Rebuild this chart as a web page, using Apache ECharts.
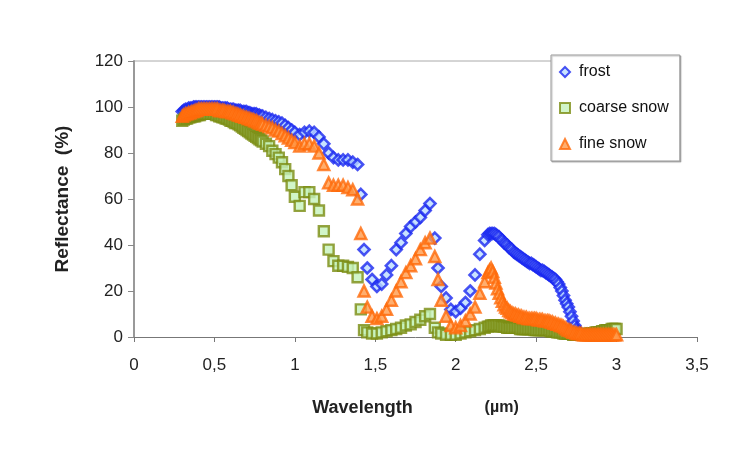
<!DOCTYPE html>
<html>
<head>
<meta charset="utf-8">
<script src="https://cdn.jsdelivr.net/npm/echarts@6/dist/echarts.min.js"></script>
<style>
  html, body { margin: 0; padding: 0; background: #fff; }
  #chart { width: 740px; height: 449px; }
</style>
</head>
<body>
<div id="chart"></div>
<script>
// wavelength grid (µm), shared by the three spectra
const wavelength = [
  // visible / near IR, dense
  0.30, 0.31, 0.32, 0.33, 0.34, 0.35, 0.36, 0.37, 0.38, 0.39,
  0.40, 0.41, 0.42, 0.43, 0.44, 0.45, 0.46, 0.47, 0.48, 0.49,
  0.50, 0.51, 0.52, 0.53, 0.54, 0.55, 0.56, 0.57, 0.58, 0.59,
  0.60, 0.61, 0.62, 0.63, 0.64, 0.65, 0.66, 0.67, 0.68, 0.69,
  0.70, 0.71, 0.72, 0.73, 0.74, 0.75, 0.76, 0.77, 0.78, 0.79,
  0.80, 0.82, 0.84, 0.86, 0.88, 0.90, 0.92, 0.94, 0.96, 0.98, 1.00,
  // 1.0 - 1.5
  1.03, 1.06, 1.09, 1.12, 1.15, 1.18, 1.21, 1.24, 1.27, 1.30, 1.33, 1.36, 1.39,
  1.41, 1.43, 1.45, 1.48,
  // 1.5 - 2.2
  1.51, 1.54, 1.57, 1.60, 1.63, 1.66, 1.69, 1.72, 1.75, 1.78, 1.81, 1.84,
  1.87, 1.89, 1.91, 1.94, 1.97, 2.00, 2.03, 2.06, 2.09, 2.12, 2.15, 2.18,
  // 2.2 - 3.0, dense
  2.20, 2.21, 2.22, 2.23, 2.24, 2.25, 2.26, 2.27, 2.28, 2.29,
  2.30, 2.31, 2.32, 2.33, 2.34, 2.35, 2.36, 2.37, 2.38, 2.39,
  2.40, 2.41, 2.42, 2.43, 2.44, 2.45, 2.46, 2.47, 2.48, 2.49,
  2.50, 2.51, 2.52, 2.53, 2.54, 2.55, 2.56, 2.57, 2.58, 2.59,
  2.60, 2.61, 2.62, 2.63, 2.64, 2.65, 2.66, 2.67, 2.68, 2.69,
  2.70, 2.71, 2.72, 2.73, 2.74, 2.75, 2.76, 2.77, 2.78, 2.79,
  2.80, 2.81, 2.82, 2.83, 2.84, 2.85, 2.86, 2.87, 2.88, 2.89,
  2.90, 2.91, 2.92, 2.93, 2.94, 2.95, 2.96, 2.97, 2.98, 2.99,
  3.00
];

const frost = [
  98, 98.5, 99, 99, 99.5, 99.5, 99.5, 100, 100, 100,
  100, 100, 100, 100, 100, 100, 100, 100, 100, 100,
  100, 100, 100, 100, 99.5, 99.5, 99.5, 99.5, 99.5, 99,
  99, 99, 99, 98.5, 98.5, 98.5, 98.5, 98, 98, 98,
  98, 97.5, 97.5, 97, 97, 97, 97, 96.5, 96.5, 96,
  96, 95.5, 95, 94.5, 94, 93.5, 93, 92, 91, 90, 89,
  88, 89, 89.5, 89, 87, 84, 80, 78, 77, 77, 77, 76, 75,
  62, 38, 30, 25,
  22, 23, 27, 31, 38, 41, 45, 48, 50, 52, 55, 58,
  43, 30, 22, 17, 12, 11, 12.5, 15, 20, 27, 36, 42,
  44.5, 45, 45, 45, 45, 44.5, 44, 43.5, 42.5, 42,
  41, 40.5, 40, 39, 38.5, 38, 37, 36.5, 36, 35.5,
  35, 34.5, 34, 33.5, 33, 32.5, 32, 32, 31.5, 31,
  30.5, 30, 29.5, 29, 29, 28.5, 28, 27.5, 27, 26.5,
  26, 25.5, 25, 24, 23, 21.5, 20, 18, 16, 14.5,
  13, 11, 9, 7, 5, 3.5, 2.5, 2, 1.5, null,
  null, null, null, null, null, null, null, null, null, null,
  null, null, null, null, null, null, null, null, null, null,
  null
];

const coarseSnow = [
  94, 94.5, 95, 95, 95.5, 95.5, 96, 96, 96, 96.5,
  96.5, 96.5, 97, 97, 97, 97, 97, 97, 97, 97,
  97, 96.5, 96.5, 96, 96, 95.5, 95.5, 95, 95, 94.5,
  94, 94, 93.5, 93, 93, 92.5, 92, 91.5, 91, 90.5,
  90, 89.5, 89, 88.5, 88, 87.5, 87, 86.5, 86, 85.5,
  85, 84, 83, 81, 79.5, 78, 76, 73, 70, 66, 61,
  57, 63, 63, 60, 55, 46, 38, 33, 31, 31, 30.5, 30, 26,
  12, 3, 2, 1.5,
  1.5, 2, 2.5, 3, 3.5, 4, 5, 5.5, 6.5, 7.5, 9, 10,
  4, 2, 1.5, 1, 1, 1, 1.5, 2, 2.5, 3, 3.5, 4,
  4.5, 4.5, 5, 5, 5, 5, 5, 5, 4.5, 4.5,
  4.5, 4.5, 4, 4, 4, 4, 4, 4, 4, 4,
  3.5, 3.5, 3.5, 3.5, 3.5, 3.5, 3.5, 3.5, 3.5, 3,
  3, 3, 3, 3, 3, 3, 3, 3, 3, 2.5,
  2.5, 2.5, 2.5, 2, 2, 2, 2, 1.5, 1.5, 1.5,
  1.5, 1.5, 1.5, 1, 1, 1, 1, 1, 1, 1,
  1, 1, 1, 1.5, 1.5, 1.5, 1.5, 2, 2, 2,
  2, 2.5, 2.5, 3, 3, 3, 3, 3.5, 3.5, 3.5,
  3.5
];

const fineSnow = [
  96, 96.5, 97, 97, 97.5, 97.5, 98, 98, 98.5, 98.5,
  99, 99, 99, 99, 99, 99, 99, 99, 99, 99,
  99, 99, 99, 98.5, 98.5, 98.5, 98.5, 98, 98, 98,
  98, 97.5, 97.5, 97, 97, 96.5, 96.5, 96, 96, 95.5,
  95.5, 95, 95, 94.5, 94.5, 94, 94, 93.5, 93, 93,
  92.5, 92, 91.5, 91, 90, 89.5, 88.5, 87.5, 86.5, 85.5, 84.5,
  83, 84, 84, 83, 80, 75, 67, 66, 66, 66, 65, 64, 60,
  45, 20, 13, 9,
  8, 9, 12, 16, 20, 24, 28, 31, 34, 38, 41, 43,
  35, 25, 16, 9, 5, 4, 5, 7, 10, 13, 19, 24,
  28, 29, 30, 28.5, 26, 23.5, 21, 19, 17, 15.5,
  14, 13, 12.5, 11.5, 11, 10.5, 10, 10, 9.5, 9.5,
  9, 9, 8.5, 8.5, 8.5, 8, 8, 8, 8, 8,
  8, 7.5, 7.5, 7.5, 7.5, 7, 7, 7, 7, 6.5,
  6.5, 6, 6, 5.5, 5.5, 5, 5, 4.5, 4, 3.5,
  3, 3, 2.5, 2, 2, 1.5, 1.5, 1.5, 1.5, 1,
  1, 1, 1, 1, 1, 1, 1, 1, 1, 1,
  1, 1, 1, 1, 1, 1, 1, 1, 1, 1,
  1
];

const xTicks = [0, 0.5, 1, 1.5, 2, 2.5, 3, 3.5];
const yTicks = [0, 20, 40, 60, 80, 100, 120];

const pairs = (vals) => wavelength
  .map((w, i) => [w, vals[i]])
  .filter((p) => p[1] !== null && p[1] !== undefined);

const chart = echarts.init(document.getElementById('chart'));

const labelFont = { fontFamily: 'Liberation Sans', fontSize: 17, color: '#222' };

chart.setOption({
  animation: false,
  backgroundColor: '#fff',
  grid: { left: 134, right: 43, top: 61, bottom: 112, containLabel: false },
  legend: {
    orient: 'vertical',
    left: 551,
    top: 55,
    padding: [9, 11, 9, 8],
    itemGap: 20,
    itemWidth: 10,
    itemHeight: 10,
    backgroundColor: '#fff',
    borderColor: '#999',
    borderWidth: 1,
    shadowColor: 'rgba(0,0,0,0.25)',
    shadowOffsetX: 1,
    shadowOffsetY: 1,
    shadowBlur: 1,
    textStyle: { fontFamily: 'Liberation Sans', fontSize: 16, color: '#111', padding: [0, 0, 0, 4] },
    data: ['frost', 'coarse snow', 'fine snow']
  },
  xAxis: {
    type: 'value',
    min: xTicks[0],
    max: xTicks[xTicks.length - 1],
    interval: 0.5,
    name: '{a|Wavelength}{b|(µm)}',
    nameLocation: 'middle',
    nameGap: 62,
    nameTextStyle: {
      rich: {
        a: { fontFamily: 'Liberation Sans', fontWeight: 'bold', fontSize: 18, color: '#222' },
        b: { fontFamily: 'Liberation Sans', fontWeight: 'bold', fontSize: 16, color: '#222', padding: [0, 0, 0, 72] }
      }
    },
    axisLine: { show: true, lineStyle: { color: '#777', width: 1 } },
    axisTick: { show: true, length: 5, lineStyle: { color: '#777' } },
    axisLabel: Object.assign({ margin: 20, formatter: (v) => String(v).replace('.', ',') }, labelFont),
    splitLine: { show: false }
  },
  yAxis: {
    type: 'value',
    min: yTicks[0],
    max: yTicks[yTicks.length - 1],
    interval: 20,
    name: 'Reflectance  (%)',
    nameLocation: 'middle',
    nameGap: 62,
    nameTextStyle: { fontFamily: 'Liberation Sans', fontWeight: 'bold', fontSize: 19, color: '#222' },
    axisLine: { show: true, lineStyle: { color: '#999', width: 2 } },
    axisTick: { show: true, length: 6, lineStyle: { color: '#888' } },
    axisLabel: Object.assign({ margin: 11 }, labelFont),
    splitLine: { show: false }
  },
  series: [
    {
      name: 'frost',
      type: 'scatter',
      symbol: 'diamond',
      symbolSize: 11,
      itemStyle: { color: '#bcdcff', borderColor: '#1a28f0', borderWidth: 2.6 },
      data: pairs(frost)
    },
    {
      name: 'coarse snow',
      type: 'scatter',
      symbol: 'rect',
      symbolSize: 10,
      itemStyle: { color: '#c6f2bc', borderColor: '#7a8c12', borderWidth: 2.4 },
      data: pairs(coarseSnow)
    },
    {
      name: 'fine snow',
      type: 'scatter',
      symbol: 'triangle',
      symbolSize: 11,
      itemStyle: { color: '#ff9a4a', borderColor: '#ff6a0a', borderWidth: 2.4 },
      data: pairs(fineSnow)
    }
  ],
  graphic: [
    {
      type: 'line',
      shape: { x1: 134, y1: 61, x2: 551, y2: 61 },
      style: { stroke: '#aaa', lineWidth: 1 },
      silent: true
    }
  ]
});
</script>
</body>
</html>
